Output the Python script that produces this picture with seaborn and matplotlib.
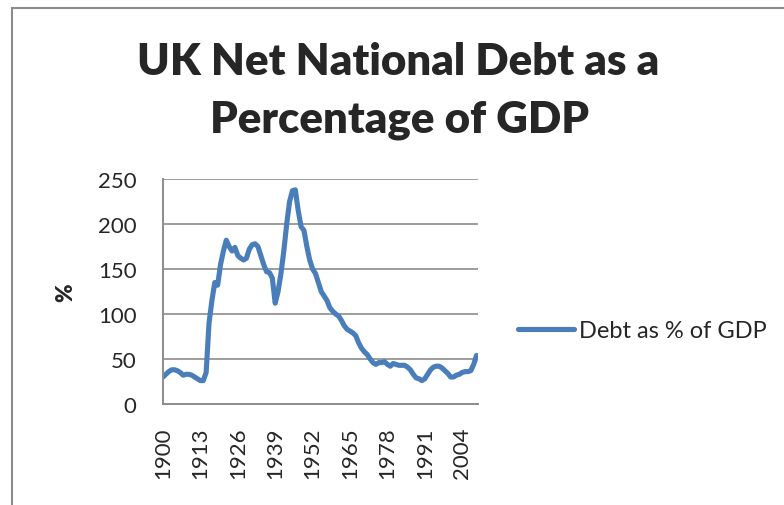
import matplotlib
matplotlib.use("Agg")
import matplotlib.pyplot as plt
import seaborn as sns
import pandas as pd
from matplotlib.patches import Rectangle

years = list(range(1900, 2010))
debt_pct = [
    30, 33, 36, 38, 38, 37, 35, 32, 33, 33,
    32, 30, 28, 26, 26, 35, 90, 115, 135, 132,
    155, 170, 182, 175, 170, 174, 165, 162, 160, 162,
    172, 177, 178, 175, 165, 155, 147, 146, 140, 112,
    125, 145, 170, 200, 225, 237, 238, 215, 197, 193,
    175, 160, 150, 145, 135, 125, 120, 115, 107, 103,
    100, 98, 93, 87, 83, 81, 79, 76, 68, 62,
    58, 55, 50, 46, 44, 46, 46, 47, 44, 42,
    45, 44, 43, 43, 43, 41, 38, 33, 29, 28,
    26, 28, 33, 38, 41, 42, 42, 40, 37, 34,
    30, 30, 32, 33, 35, 36, 36, 37, 44, 54,
]
tick_years = [1900, 1913, 1926, 1939, 1952, 1965, 1978, 1991, 2004]
y_ticks = [0, 50, 100, 150, 200, 250]
series_name = "Debt as % of GDP"
title_lines = ["UK Net National Debt as a", "Percentage of GDP"]

df = pd.DataFrame({"Year": years, "Debt": debt_pct, "Series": series_name})

sns.set_style("white")
plt.rcParams["font.family"] = ["Lato", "DejaVu Sans"]

fig = plt.figure(figsize=(7.84, 5.06), dpi=100)
W, H = 784, 506
ax = fig.add_axes([163 / W, 1 - 405 / H, (478 - 163) / W, (405 - 180) / H])

sns.lineplot(data=df, x="Year", y="Debt", hue="Series", palette=["#4A7EBB"],
             linewidth=3.7, ax=ax, legend=True)

ax.set_xlim(1900, 2009.5)
ax.set_ylim(0, 250)
ax.set_xticks(tick_years)
ax.set_xticklabels([str(y) for y in tick_years], rotation=90, fontsize=16)
ax.set_yticks(y_ticks)
ax.set_yticklabels([str(v) for v in y_ticks], fontsize=16)
ax.tick_params(axis="x", length=0, pad=16)
ax.tick_params(axis="y", length=0, pad=19)
ax.yaxis.grid(True, color="#8C8C8C", linewidth=1.2)
ax.xaxis.grid(False)
for s in ["top", "right"]:
    ax.spines[s].set_visible(False)
for s in ["left", "bottom"]:
    ax.spines[s].set_color("#8C8C8C")
    ax.spines[s].set_linewidth(1.4)
ax.set_xlabel("")
ax.set_ylabel("%", fontsize=16, fontweight="heavy", labelpad=16)

leg = ax.legend(loc="center left", bbox_to_anchor=(509 / W, 1 - 332 / H),
                bbox_transform=fig.transFigure, frameon=False, fontsize=17,
                handlelength=2.35, handletextpad=0.2, borderaxespad=0)

fig.text(398 / W, 1 - 62 / H, title_lines[0], ha="center", va="center",
         fontsize=31.5, fontweight="heavy")
fig.text(399 / W, 1 - 120 / H, title_lines[1], ha="center", va="center",
         fontsize=31.5, fontweight="heavy")

fig.patches.append(Rectangle((12 / W, -0.1), 1.2, 1 + 0.1 - 8.5 / H,
                             transform=fig.transFigure, fill=False,
                             edgecolor="#8C8C8C", linewidth=1.5, zorder=-1))

fig.savefig("out.png", dpi=100)
